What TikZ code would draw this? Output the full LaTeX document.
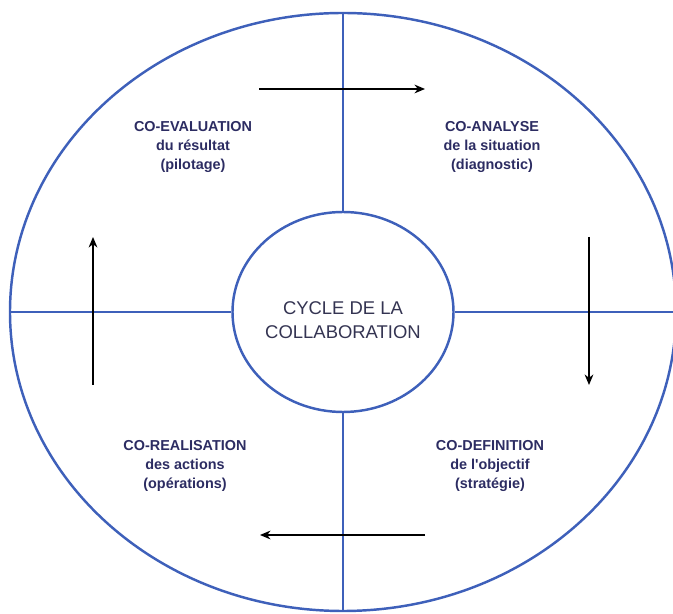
\documentclass[tikz,border=0pt]{standalone}
\usepackage{fontspec}
\setmainfont{Liberation Sans}
\usepackage{tikz}
\usetikzlibrary{arrows,arrows.meta,shapes}
\usepackage{xcolor}
\definecolor{ringblue}{RGB}{62,96,186}
\definecolor{labelnavy}{RGB}{44,44,98}
\definecolor{corenavy}{RGB}{52,52,82}

\begin{document}
\begin{tikzpicture}[>={Stealth[length=6pt,width=5pt]},thick]
  \tikzstyle{ring}=[ellipse,draw=ringblue,line width=1.4pt,inner sep=0pt]
  \tikzstyle{phase}=[align=center,text=labelnavy,font=\fontsize{8.2}{10.6}\selectfont\bfseries]
  \tikzstyle{spoke}=[draw=ringblue,line width=1.2pt]
  \tikzstyle{turn}=[->,black,line width=0.85pt]
  \useasboundingbox (-6.86,-6.04) rectangle (6.6,6.24);
  \node(outer) at (0,0) [ring,minimum width=13.32cm,minimum height=11.96cm]{};
  \node(core) at (0,0) [ring,minimum width=4.42cm,minimum height=4cm]{};
  \node(core-label) at (0,-0.16) [align=center,text=corenavy,font=\fontsize{10.5}{13.7}\selectfont]{CYCLE DE LA\\COLLABORATION};
  \draw[spoke](outer.north)--(core.north);
  \draw[spoke](core.south)--(outer.south);
  \draw[spoke](outer.west)--(core.west);
  \draw[spoke](core.east)--(outer.east);
  \node(evaluation) at (-3.0,3.3) [phase]{CO-EVALUATION\\du résultat\\(pilotage)};
  \node(analyse) at (2.98,3.3) [phase]{CO-ANALYSE\\de la situation\\(diagnostic)};
  \node(definition) at (2.94,-3.08) [phase]{CO-DEFINITION\\de l\textquotesingle objectif\\(stratégie)};
  \node(realisation) at (-3.16,-3.08) [phase]{CO-REALISATION\\des actions\\(opérations)};
  \coordinate(top-a) at (-1.68,4.46);
  \coordinate(top-b) at (1.64,4.46);
  \coordinate(right-a) at (4.92,1.5);
  \coordinate(right-b) at (4.92,-1.46);
  \coordinate(bottom-a) at (1.64,-4.46);
  \coordinate(bottom-b) at (-1.66,-4.46);
  \coordinate(left-a) at (-5.0,-1.46);
  \coordinate(left-b) at (-5.0,1.5);
  \draw[turn](top-a)--(top-b);
  \draw[turn](right-a)--(right-b);
  \draw[turn](bottom-a)--(bottom-b);
  \draw[turn](left-a)--(left-b);
\end{tikzpicture}
\end{document}
